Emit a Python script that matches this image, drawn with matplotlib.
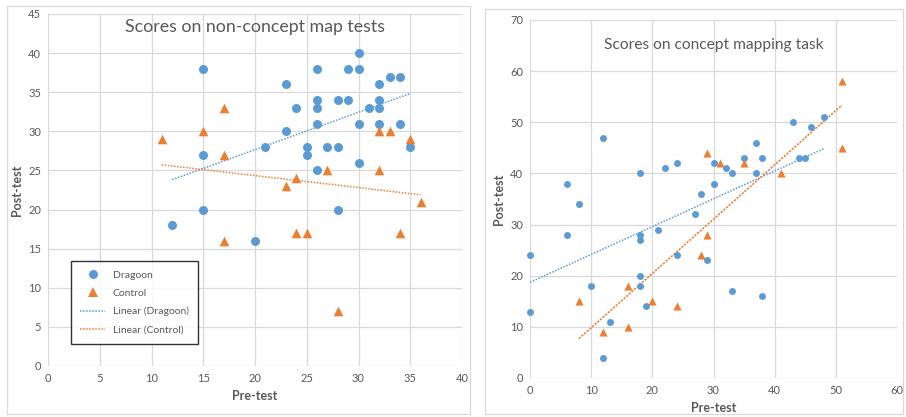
import numpy as np
import matplotlib.pyplot as plt
from matplotlib.patches import Rectangle
from matplotlib.lines import Line2D

plt.rcParams['font.family'] = ['Lato', 'DejaVu Sans']

BLUE = '#5B9BD5'
ORANGE = '#ED7D31'
GRID = '#D9D9D9'
TEXT = '#595959'

# non-concept map tests
nc_dragoon_pre = [15, 23, 26, 29, 30, 30, 32, 33, 34, 24, 26, 26, 28, 29, 31, 32, 32,
                  23, 26, 30, 32, 34, 15, 21, 25, 25, 27, 28, 35, 30, 26, 15, 28, 12, 20]
nc_dragoon_post = [38, 36, 38, 38, 40, 38, 36, 37, 37, 33, 34, 33, 34, 34, 33, 34, 33,
                   30, 31, 31, 31, 31, 27, 28, 28, 27, 28, 28, 28, 26, 25, 20, 20, 18, 16]
nc_control_pre = [11, 15, 17, 17, 23, 24, 27, 32, 33, 32, 35, 36, 17, 24, 25, 34, 28]
nc_control_post = [29, 30, 33, 27, 23, 24, 25, 30, 30, 25, 29, 21, 16, 17, 17, 17, 7]

# concept mapping task
cm_dragoon_pre = [6, 8, 12, 18, 22, 24, 30, 30, 32, 33, 28, 35, 37, 37, 38, 43, 44, 45, 46,
                  48, 6, 0, 0, 10, 18, 18, 21, 27, 24, 29, 18, 18, 19, 13, 12, 33, 38]
cm_dragoon_post = [38, 34, 47, 40, 41, 42, 42, 38, 41, 40, 36, 43, 46, 40, 43, 50, 43, 43, 49,
                   51, 28, 24, 13, 18, 28, 27, 29, 32, 24, 23, 20, 18, 14, 11, 4, 17, 16]
cm_control_pre = [29, 31, 35, 41, 51, 51, 8, 12, 16, 16, 20, 24, 28, 29]
cm_control_post = [44, 42, 42, 40, 58, 45, 15, 9, 18, 10, 15, 14, 24, 28]


def trend(ax, x, y, color, dash=(1, 1)):
    x = np.asarray(x, float)
    y = np.asarray(y, float)
    k, b = np.polyfit(x, y, 1)
    xs = np.array([x.min(), x.max()])
    ax.plot(xs, k * xs + b, color=color, lw=1.1, ls=(0, dash), zorder=2)


def style(ax, xmax, ymax, xstep, ystep):
    ax.set_xlim(0, xmax)
    ax.set_ylim(0, ymax)
    ax.set_xticks(np.arange(0, xmax + 1, xstep))
    ax.set_yticks(np.arange(0, ymax + 1, ystep))
    for s in ax.spines.values():
        s.set_visible(False)
    ax.grid(True, color=GRID, lw=0.9)
    ax.set_axisbelow(True)
    ax.tick_params(length=0, colors=TEXT, labelsize=8, pad=5)
    ax.set_xlabel('Pre-test', color=TEXT, fontsize=9, fontweight='bold', labelpad=4)
    ax.set_ylabel('Post-test', color=TEXT, fontsize=9, fontweight='bold', labelpad=4)


fig = plt.figure(figsize=(9.06, 4.17), dpi=100)

# panel frames
fig.patches.append(Rectangle((7 / 906, 3 / 417), 463 / 906, 408 / 417, transform=fig.transFigure,
                             fill=False, ec=GRID, lw=0.9))
fig.patches.append(Rectangle((485 / 906, 3 / 417), 418 / 906, 405 / 417, transform=fig.transFigure,
                             fill=False, ec=GRID, lw=0.9))

ax1 = fig.add_axes([48 / 906, 1 - 366 / 417, 414 / 906, 352 / 417])
style(ax1, 40, 45, 5, 5)
ax1.scatter(nc_dragoon_pre, nc_dragoon_post, s=42, color=BLUE, marker='o', lw=0, zorder=3,
            clip_on=False)
ax1.scatter(nc_control_pre, nc_control_post, s=48, color=ORANGE, marker='^', lw=0, zorder=3,
            clip_on=False)
trend(ax1, nc_dragoon_pre, nc_dragoon_post, BLUE)
trend(ax1, nc_control_pre, nc_control_post, ORANGE)
ax1.text(0.5, 0.962, 'Scores on non-concept map tests', transform=ax1.transAxes,
         ha='center', va='center', fontsize=12.8, color=TEXT)

handles = [
    Line2D([], [], ls='none', marker='o', color=BLUE, ms=6.5, mew=0),
    Line2D([], [], ls='none', marker='^', color=ORANGE, ms=7, mew=0),
    Line2D([], [], color=BLUE, lw=1.1, ls=(0, (1, 1))),
    Line2D([], [], color=ORANGE, lw=1.1, ls=(0, (1, 1))),
]
leg = ax1.legend(handles, ['Dragoon', 'Control', 'Linear (Dragoon)', 'Linear (Control)'],
                 loc='lower left', bbox_to_anchor=(23 / 414, 22 / 352), frameon=True,
                 fancybox=False, edgecolor='black', fontsize=7.5, labelcolor=TEXT,
                 handlelength=2.4, handletextpad=0.7, labelspacing=0.85, borderpad=0.9,
                 borderaxespad=0)
leg.get_frame().set_linewidth(1.0)

ax2 = fig.add_axes([530 / 906, 1 - 378 / 417, 367 / 906, 358 / 417])
style(ax2, 60, 70, 10, 10)
ax2.scatter(cm_dragoon_pre, cm_dragoon_post, s=25, color=BLUE, marker='o', lw=0, zorder=3,
            clip_on=False)
ax2.scatter(cm_control_pre, cm_control_post, s=34, color=ORANGE, marker='^', lw=0, zorder=3,
            clip_on=False)
trend(ax2, cm_dragoon_pre, cm_dragoon_post, BLUE)
trend(ax2, cm_control_pre, cm_control_post, ORANGE, dash=(1.5, 0.8))
ax2.text(0.5, 0.93, 'Scores on concept mapping task', transform=ax2.transAxes,
         ha='center', va='center', fontsize=11.2, color=TEXT)

fig.savefig('out.png', dpi=100, facecolor='white')
